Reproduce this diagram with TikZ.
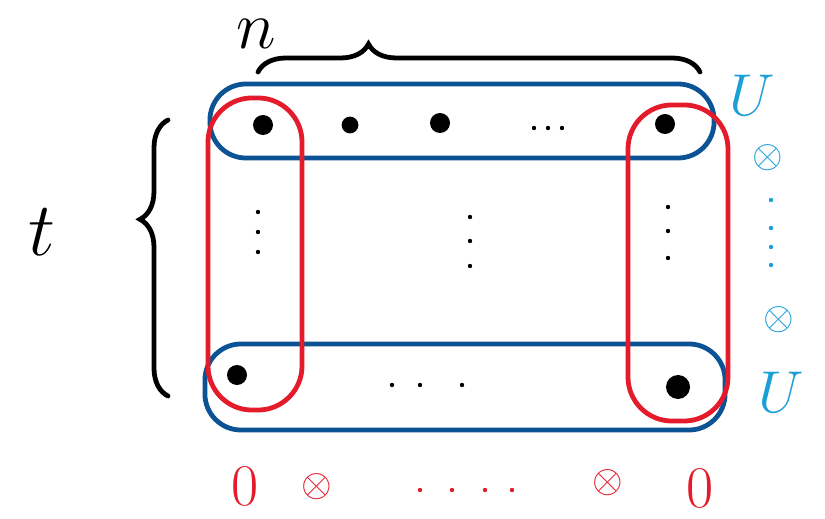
\RequirePackage{fix-cm}
\documentclass[tikz,border=0pt]{standalone}
\usepackage{tikz}
\usetikzlibrary{positioning,calc,decorations.pathreplacing}
\usepackage{xcolor}
\definecolor{rowblue}{HTML}{0B5394}
\definecolor{colred}{HTML}{E31B2A}
\definecolor{skyblue}{HTML}{1A9FD6}
\tikzset{
  rowbox/.style={draw=rowblue, line width=3.4pt, rounded corners=0.9cm},
  colbox/.style={draw=colred, line width=3.4pt, rounded corners=1.1cm},
  elem/.style={circle, fill=black, inner sep=0pt, minimum size=0.5cm},
  pip/.style={circle, fill=#1, inner sep=0pt, minimum size=0.11cm},
  pip/.default=black,
  bracket/.style={decorate, decoration={brace, amplitude=0.7cm, aspect=#1}, line width=3.4pt, line cap=round},
  biglabel/.style={inner sep=0pt, font=\fontsize{54}{54}\selectfont},
  ulabel/.style={inner sep=0pt, text=skyblue, font=\fontsize{42}{42}\selectfont},
  olabel/.style={inner sep=0pt, text=colred, font=\fontsize{42}{42}\selectfont},
  tensor/.style={inner sep=0pt, font=\fontsize{28}{28}\selectfont}
}

\begin{document}
\begin{tikzpicture}[x=0.025cm, y=-0.025cm]
  \useasboundingbox (0,0) rectangle (825,519);

  % the two blue rows
  \node[rowbox, minimum width=12.6cm, minimum height=1.85cm] (toprow) at (462,121) {};
  \node[rowbox, minimum width=13.0cm, minimum height=2.15cm] (botrow) at (465,387) {};
  % the two red columns
  \node[colbox, minimum width=2.35cm, minimum height=7.8cm] (leftcol) at (255,254) {};
  \node[colbox, minimum width=2.5cm, minimum height=7.9cm] (rightcol) at (678,263) {};

  % top row
  \node[elem] (a1) at (263,125) {};
  \node[elem, minimum size=0.42cm] (a2) at (350,125) {};
  \node[elem] (a3) at (440,123) {};
  \foreach \x [count=\i] in {534,548,562}
    \node[pip] (ad\i) at (\x,128) {};
  \node[elem] (an) at (665,124) {};
  % middle
  \foreach \y [count=\i] in {212,232,252}
    \node[pip] (la\i) at (258,\y) {};
  \foreach \y [count=\i] in {217,241,266}
    \node[pip] (mi\i) at (470,\y) {};
  \foreach \y [count=\i] in {207,231,258}
    \node[pip] (ri\i) at (668,\y) {};
  % bottom row
  \node[elem] (b1) at (237,375) {};
  \foreach \x [count=\i] in {392,420,462}
    \node[pip] (bd\i) at (\x,385) {};
  \node[elem, minimum size=0.6cm] (bn) at (678,387) {};

  % braces
  \coordinate (nl) at (258,72);
  \coordinate (nr) at (700,72);
  \draw[bracket=0.25] (nl) -- (nr);
  \node[biglabel, font=\fontsize{48}{48}\selectfont] (nlab) at (256,34) {$n$};
  \coordinate (tb) at (168,396);
  \coordinate (tt) at (168,120);
  \draw[bracket=0.64] (tb) -- (tt);
  \node[biglabel] (tlab) at (42,232) {$t$};

  % right column of labels
  \node[ulabel] (u1) at (752,95) {$U$};
  \node[tensor, text=skyblue] (x1) at (768,158) {$\otimes$};
  \foreach \y [count=\i] in {200,228,247,265}
    \node[pip=skyblue] (ud\i) at (771,\y) {};
  \node[tensor, text=skyblue] (x2) at (779,320) {$\otimes$};
  \node[ulabel] (u2) at (781,392) {$U$};

  % bottom line of labels
  \node[olabel] (o1) at (245,486) {$0$};
  \node[tensor, text=colred] (y1) at (317,487) {$\otimes$};
  \foreach \x [count=\i] in {420,452,485,512}
    \node[pip=colred] (od\i) at (\x,490) {};
  \node[tensor, text=colred] (y2) at (608,483) {$\otimes$};
  \node[olabel] (o2) at (700,488) {$0$};
\end{tikzpicture}
\end{document}
